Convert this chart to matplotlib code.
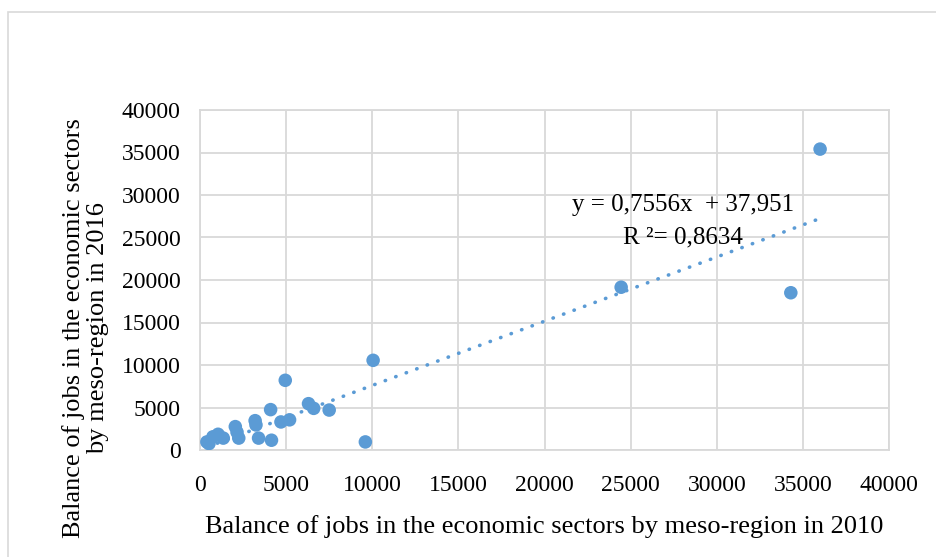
import matplotlib
matplotlib.use("Agg")
import matplotlib.pyplot as plt
import numpy as np
from matplotlib.patches import Rectangle

jobs_2010 = [36000, 24450, 34300, 10050, 4950, 4100, 7500, 6300, 6600, 5200,
             4700, 9600, 4150, 3400, 3200, 3250, 2050, 2250, 1350, 1050,
             750, 400, 520, 2150]
jobs_2016 = [35400, 19150, 18500, 10550, 8200, 4750, 4700, 5450, 4900, 3550,
             3300, 950, 1150, 1400, 3450, 2950, 2750, 1400, 1400, 1850,
             1550, 950, 750, 2100]
slope = 0.7556
intercept = 37.951
eq_text = "y = 0,7556x  + 37,951"
r2_text = "R ²= 0,8634"
ticks = [0, 5000, 10000, 15000, 20000, 25000, 30000, 35000, 40000]

plt.rcParams['font.family'] = ['Liberation Serif', 'DejaVu Serif']
blue = '#5B9BD5'
grid = '#D9D9D9'

fig = plt.figure(figsize=(9.36, 5.57), dpi=100)
fig.patches.append(Rectangle((8/936, -0.1), 2, 1 - 12/557 + 0.1,
                             transform=fig.transFigure, fill=False,
                             edgecolor=grid, linewidth=1.2))
ax = fig.add_axes([200/936, 1 - 450/557, 689/936, 340/557])
ax.set_xlim(0, 40000)
ax.set_ylim(0, 40000)
ax.set_xticks(ticks)
ax.set_yticks(ticks)
ax.grid(True, color=grid, linewidth=1.3)
ax.set_axisbelow(True)
for s in ax.spines.values():
    s.set_color(grid)
    s.set_linewidth(1.3)
ax.tick_params(length=0, labelsize=17, colors='#000000')
ax.tick_params(axis='x', pad=18)
ax.tick_params(axis='y', pad=14)

x = np.array(jobs_2010, dtype=float)
xs = np.linspace(x.min(), x.max(), 200)
ax.plot(xs, slope * xs + intercept, color=blue, linewidth=2.6,
        linestyle=(0, (0.1, 3.0)), dash_capstyle='round', zorder=2)
ax.scatter(jobs_2010, jobs_2016, s=95, color=blue, edgecolors='none', zorder=3)

ax.text(28050, 28800, eq_text, fontsize=18, ha='center', va='center')
ax.text(28050, 25000, r2_text, fontsize=18, ha='center', va='center')

ax.set_xlabel("Balance of jobs in the economic sectors by meso-region in 2010",
              fontsize=19, labelpad=14)
ax.set_ylabel("Balance of jobs in the economic sectors\nby meso-region in 2016",
              fontsize=19, labelpad=9, linespacing=1.15, y=0.36)

fig.savefig("out.png", dpi=100)
